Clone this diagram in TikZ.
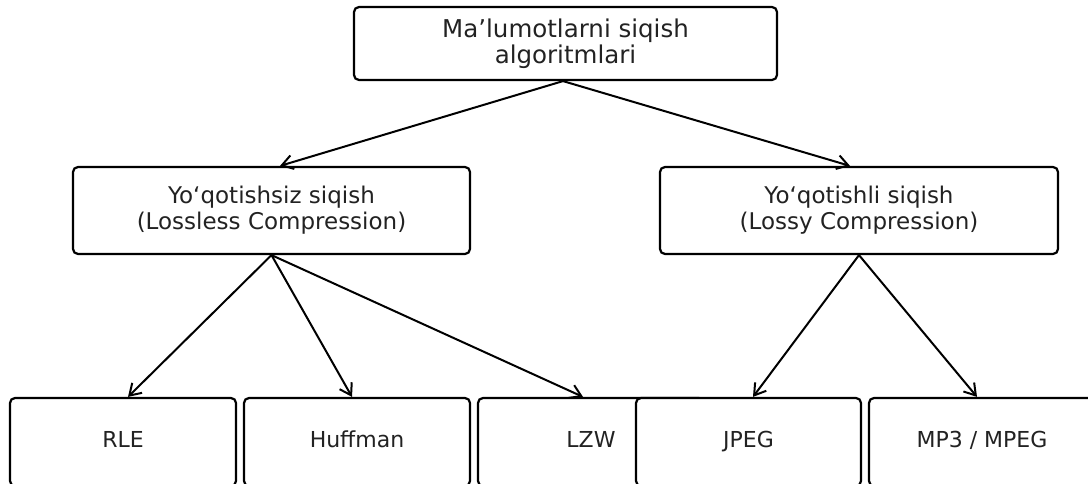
\documentclass[tikz,border=0pt]{standalone}
\usepackage{fontspec}
\setmainfont{DejaVu Sans}
\usetikzlibrary{arrows.meta}
\definecolor{txt}{HTML}{222222}
\begin{document}
\begin{tikzpicture}[x=1pt,y=1pt,
  box/.style={draw=black,line width=2.2pt,rounded corners=5pt,fill=white,inner sep=0pt,align=center,text=txt,font=\fontsize{23}{26}\selectfont},
  leaf/.style={box,minimum width=226pt,minimum height=88pt,text height=16pt,text depth=5pt,font=\fontsize{22}{26}\selectfont},
  conn/.style={line width=2pt,-{Straight Barb[length=11pt,width=14pt,line width=2pt]}}]
\useasboundingbox (0,0) rectangle (1088,483);
\begin{scope}
\clip (0,0) rectangle (1088,483);
\node[box,minimum width=423pt,minimum height=73pt,font=\fontsize{24.5}{26.5}\selectfont] (root) at (565.5,439.5) {Ma’lumotlarni siqish\\algoritmlari};
\node[box,minimum width=397pt,minimum height=87pt] (lossless) at (271.5,272.5) {Yo‘qotishsiz siqish\\(Lossless Compression)};
\node[box,minimum width=398pt,minimum height=87pt] (lossy) at (859,272.5) {Yo‘qotishli siqish\\(Lossy Compression)};
\node[leaf] (rle) at (123,41) {RLE};
\node[leaf] (huff) at (357,41) {Huffman};
\node[leaf] (lzw) at (591,41) {LZW};
\node[leaf,minimum width=225pt] (jpeg) at (748.5,41) {JPEG};
\node[leaf] (mp3) at (982,41) {MP3 / MPEG};
\draw[conn] ([xshift=-2.5pt]root.south) -- ([xshift=8.5pt]lossless.north);
\draw[conn] ([xshift=-2.5pt]root.south) -- ([xshift=-9pt]lossy.north);
\draw[conn] (lossless.south) -- ([xshift=5pt]rle.north);
\draw[conn] (lossless.south) -- ([xshift=-5pt]huff.north);
\draw[conn] (lossless.south) -- ([xshift=-8pt]lzw.north);
\draw[conn] (lossy.south) -- ([xshift=4.5pt]jpeg.north);
\draw[conn] (lossy.south) -- ([xshift=-5pt]mp3.north);
\end{scope}
\end{tikzpicture}
\end{document}
